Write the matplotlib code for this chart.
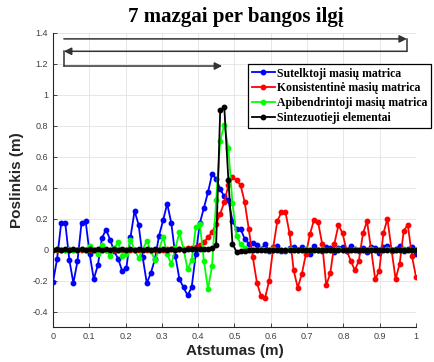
import numpy as np
import matplotlib
matplotlib.use("Agg")
import matplotlib.pyplot as plt

# atstumas (m), 90 mazgu nuo 0 iki 1
x = np.linspace(0, 1, 90)

sutelktoji = [-0.21, -0.06, 0.17, 0.175, -0.065, -0.215, -0.075, 0.175, 0.185, -0.03,
              -0.19, -0.10, 0.075, 0.13, 0.065, -0.01, -0.06, -0.14, -0.115, 0.08,
              0.25, 0.16, -0.05, -0.215, -0.15, -0.06, 0.09, 0.19, 0.297, 0.173,
              -0.04, -0.19, -0.243, -0.295, -0.243, -0.03, 0.17, 0.27, 0.37, 0.487,
              0.459, 0.39, 0.344, 0.318, 0.188, 0.134, 0.134, 0.07, 0.04, 0.045,
              0.03, 0.005, 0.035, -0.01, 0.0, 0.026, -0.01, -0.011, 0.01, 0.02,
              -0.005, 0.015, -0.01, -0.028, 0.021, 0.0, -0.01, 0.015, 0.01, -0.015,
              0.01, 0.02, -0.01, 0.026, 0.005, -0.01, 0.01, -0.015, 0.02, 0.01,
              -0.02, 0.015, 0.026, -0.01, 0.005, 0.026, -0.01, 0.005, 0.02, -0.028]

konsistentine = [0.0, 0.0, 0.0, 0.0, 0.0, 0.0, 0.0, 0.0, 0.0, 0.0,
                 0.0, 0.0, 0.0, 0.0, 0.0, 0.0, 0.0, 0.0, 0.0, 0.0,
                 0.0, 0.0, 0.0, 0.0, 0.0, 0.0, 0.001, 0.001, 0.002, 0.003,
                 0.004, 0.005, 0.007, 0.01, 0.014, 0.02, 0.03, 0.047, 0.08, 0.112,
                 0.167, 0.232, 0.307, 0.416, 0.47, 0.448, 0.416, 0.307, 0.134, -0.05,
                 -0.212, -0.3, -0.31, -0.2, 0.015, 0.184, 0.242, 0.242, 0.106, -0.132,
                 -0.245, -0.158, -0.03, 0.1, 0.193, 0.177, 0.037, -0.23, -0.15, 0.04,
                 0.16, 0.105, -0.006, -0.07, -0.133, -0.07, 0.105, 0.184, 0.0, -0.19,
                 -0.136, 0.105, 0.2, 0.0, -0.19, -0.09, 0.123, 0.16, -0.04, -0.175]

apibendrintoji = [0.0, 0.005, -0.005, 0.0, 0.005, -0.005, 0.0, 0.005, 0.0, 0.026,
                  0.0, -0.028, 0.032, 0.0, -0.043, 0.01, 0.047, -0.04, -0.03, 0.063,
                  0.0, -0.054, 0.0, 0.058, -0.01, -0.067, 0.0, 0.084, -0.028, -0.093,
                  0.01, 0.112, 0.005, -0.125, -0.067, 0.145, 0.167, -0.071, -0.255, -0.104,
                  0.318, 0.703, 0.807, 0.654, 0.3, 0.09, 0.037, 0.01, 0.0, -0.005,
                  0.0, 0.005, -0.005, 0.0, 0.005, 0.0, -0.005, 0.0, 0.005, 0.0,
                  -0.005, 0.0, 0.005, 0.0, -0.005, 0.0, 0.005, 0.0, -0.005, 0.0,
                  0.005, 0.0, -0.005, 0.0, 0.005, 0.0, -0.005, 0.0, 0.005, 0.0,
                  -0.005, 0.0, 0.005, 0.0, -0.005, 0.0, 0.005, 0.0, -0.005, 0.0]

sintezuotieji = [0.0, 0.003, -0.002, 0.002, -0.003, 0.002, 0.0, 0.003, -0.002, 0.002,
                 -0.003, 0.002, 0.0, 0.003, -0.002, 0.002, -0.003, 0.002, 0.0, 0.003,
                 -0.002, 0.002, -0.003, 0.002, 0.0, 0.003, -0.002, 0.002, -0.003, 0.002,
                 0.0, 0.003, 0.0, 0.004, 0.002, 0.005, 0.004, 0.006, 0.005, 0.008,
                 0.03, 0.9, 0.92, 0.45, 0.04, -0.015, -0.01, -0.006, -0.004, -0.005,
                 -0.003, -0.004, -0.002, -0.004, -0.003, -0.002, -0.004, -0.003, -0.002, -0.004,
                 -0.003, -0.002, -0.004, -0.003, -0.002, -0.004, -0.003, -0.002, -0.004, -0.003,
                 -0.002, -0.004, -0.003, -0.002, -0.004, -0.003, -0.002, -0.004, -0.003, -0.002,
                 -0.004, -0.003, -0.002, -0.004, -0.003, -0.002, -0.004, -0.003, -0.002, -0.004]

series = [(sutelktoji, '#0000ff', 'Sutelktoji masių matrica'),
          (konsistentine, '#ff0000', 'Konsistentinė masių matrica'),
          (apibendrintoji, '#00ff00', 'Apibendrintoji masių matrica'),
          (sintezuotieji, '#000000', 'Sintezuotieji elementai')]

fig = plt.figure(figsize=(4.34, 3.62), dpi=100)
ax = fig.add_axes([0.1221, 0.0961, 0.8364, 0.8136])

for vals, col, lab in series:
    ax.plot(x, vals, '-o', color=col, lw=1.3, ms=3.2, label=lab)

ax.set_xlim(0, 1)
ax.set_ylim(-0.5, 1.4)
ax.set_xticks(np.arange(0, 1.01, 0.1))
ax.set_xticklabels(['0', '0.1', '0.2', '0.3', '0.4', '0.5', '0.6', '0.7', '0.8', '0.9', '1'])
ax.set_yticks(np.arange(-0.4, 1.41, 0.2))
ax.set_yticklabels(['-0.4', '-0.2', '0', '0.2', '0.4', '0.6', '0.8', '1', '1.2', '1.4'])
ax.grid(True, color='#e3e3e3', lw=0.6)
ax.set_axisbelow(True)
for s in ['top', 'right']:
    ax.spines[s].set_visible(False)
for s in ['left', 'bottom']:
    ax.spines[s].set_color('#262626')
    ax.spines[s].set_linewidth(0.8)
ax.tick_params(direction='in', length=3, width=0.6, colors='#262626',
               labelsize=6.5, labelcolor='#404040')
for t in ax.get_xticklabels() + ax.get_yticklabels():
    t.set_family('Liberation Sans')

ax.set_xlabel('Atstumas (m)', fontsize=11, fontweight='bold', family='Liberation Sans',
              color='#262626', labelpad=2)
ax.set_ylabel('Poslinkis (m)', fontsize=11, fontweight='bold', family='Liberation Sans',
              color='#262626', labelpad=6)
fig.text(236 / 434, 1 - 17 / 362, '7 mazgai per bangos ilgį', ha='center', va='center',
         fontsize=15, fontweight='bold', family='Liberation Serif')

# bangos sklidimo rodykles
arr = dict(arrowstyle='-|>', color='#333333', lw=1.1, mutation_scale=11, shrinkA=0, shrinkB=0)
ax.annotate('', xy=(0.975, 1.36), xytext=(0.03, 1.36), arrowprops=arr)
ax.plot([0.975, 0.975], [1.36, 1.28], color='#333333', lw=1.1)
ax.annotate('', xy=(0.03, 1.28), xytext=(0.975, 1.28), arrowprops=arr)
ax.plot([0.03, 0.03], [1.28, 1.185], color='#333333', lw=1.1)
ax.annotate('', xy=(0.466, 1.185), xytext=(0.03, 1.185), arrowprops=arr)

leg = ax.legend(loc='upper left', bbox_to_anchor=(248 / 434, 1 - 64 / 362),
                bbox_transform=fig.transFigure, borderaxespad=0, fancybox=False,
                framealpha=1, edgecolor='#000000', handlelength=2.0, handletextpad=0.15,
                labelspacing=0.25, borderpad=0.3,
                prop={'family': 'Liberation Serif', 'weight': 'bold', 'size': 8.5})
leg.get_frame().set_linewidth(0.9)

fig.savefig('out.png', dpi=100)
